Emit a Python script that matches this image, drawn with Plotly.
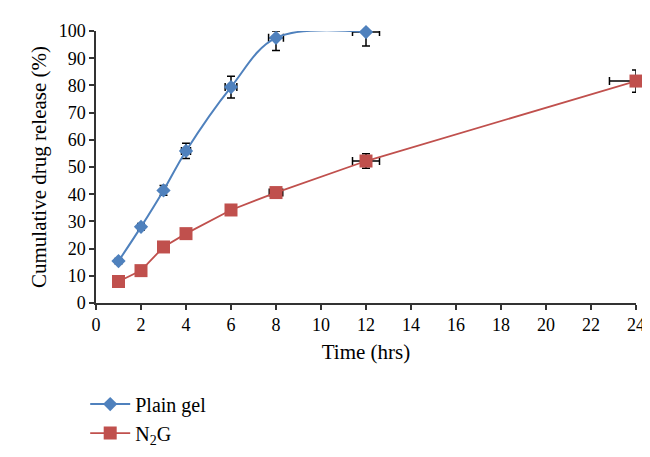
import plotly.graph_objects as go

# Data
time_plain = [1, 2, 3, 4, 6, 8, 12]
release_plain = [15.4, 28.0, 41.4, 55.9, 79.4, 97.5, 99.6]
err_y_plain_plus = [1.0, 1.2, 1.8, 2.8, 4.0, 2.5, 0.4]
err_y_plain_minus = [1.0, 1.2, 1.8, 2.8, 4.0, 4.7, 5.1]
err_x_plain = [0.0, 0.0, 0.1, 0.2, 0.26, 0.33, 0.6]

time_n2g = [1, 2, 3, 4, 6, 8, 12, 24]
release_n2g = [7.9, 11.9, 20.6, 25.5, 34.2, 40.6, 52.2, 81.6]
err_y_n2g = [0.8, 0.8, 1.0, 1.0, 1.2, 1.0, 2.7, 4.1]
err_x_n2g_plus = [0.0, 0.0, 0.0, 0.0, 0.0, 0.3, 0.6, 0.0]
err_x_n2g_minus = [0.0, 0.0, 0.0, 0.0, 0.0, 0.3, 0.6, 1.18]

x_ticks = list(range(0, 25, 2))
y_ticks = list(range(0, 101, 10))

FONT = "Liberation Serif"
BLUE = "#4F81BD"
RED = "#C0504D"

fig = go.Figure()
fig.add_trace(go.Scatter(
    x=time_plain, y=release_plain, name="Plain gel",
    mode="lines+markers",
    line=dict(color=BLUE, width=2, shape="spline", smoothing=1.0),
    marker=dict(symbol="diamond", size=11, color=BLUE),
    error_y=dict(type="data", symmetric=False, array=err_y_plain_plus,
                 arrayminus=err_y_plain_minus, color="black", thickness=1.5, width=4),
    error_x=dict(type="data", array=err_x_plain, color="black", thickness=1.5, width=4),
    cliponaxis=False,
))
fig.add_trace(go.Scatter(
    x=time_n2g, y=release_n2g, name="N<sub>2</sub>G",
    mode="lines+markers",
    line=dict(color=RED, width=1.8),
    marker=dict(symbol="square", size=13, color=RED),
    error_y=dict(type="data", array=err_y_n2g, color="black", thickness=1.5, width=4),
    error_x=dict(type="data", symmetric=False, array=err_x_n2g_plus,
                 arrayminus=err_x_n2g_minus, color="black", thickness=1.5, width=4),
    cliponaxis=False,
))

axis_common = dict(
    showline=True, linecolor="#333333", linewidth=1.5,
    ticks="outside", ticklen=5, tickwidth=1.5, tickcolor="#333333",
    showgrid=False, zeroline=False,
    tickfont=dict(family=FONT, size=18, color="black"),
)
fig.update_xaxes(range=[0, 24], tickvals=x_ticks, **axis_common,
                 title=dict(text="Time (hrs)", font=dict(family=FONT, size=21, color="black"), standoff=10))
fig.update_yaxes(range=[0, 100], tickvals=y_ticks, **axis_common,
                 title=dict(text="Cumulative drug release (%)", font=dict(family=FONT, size=21, color="black"), standoff=6))

fig.update_layout(
    width=650, height=457, autosize=False,
    margin=dict(l=88, r=22, t=23, b=153),
    paper_bgcolor="white", plot_bgcolor="white",
    font=dict(family=FONT, color="black"),
    legend=dict(x=-0.02, xanchor="left", y=-0.30, yanchor="top",
                font=dict(family=FONT, size=20, color="black"),
                bgcolor="rgba(0,0,0,0)", tracegroupgap=0, itemwidth=40),
)

fig.write_html("out.html")
